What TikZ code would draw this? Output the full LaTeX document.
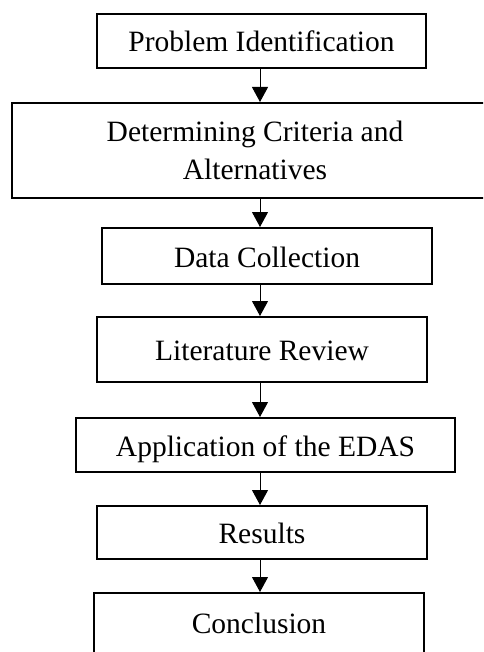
\documentclass[tikz,border=0pt]{standalone}
\usepackage{fontspec}
\setmainfont{Liberation Serif}
\usetikzlibrary{arrows.meta}
\tikzset{
	stepbox/.style={draw,line width=2pt,inner sep=0pt,text height=25pt,text depth=3pt},
	flow/.style={line width=1pt,->}
}
\begin{document}
\begin{tikzpicture}[x=1pt,y=-1pt,>={Triangle[width=16pt,length=15pt]},font=\fontsize{29.5}{38}\selectfont]
			\useasboundingbox (0,0) rectangle (483,652);
			\clip (0,0) rectangle (483,652);
			\node[stepbox,minimum width=329pt,minimum height=54pt] (ident) at (261.5,41) {Problem Identification};
			\node[draw,line width=2pt,inner sep=0pt,align=center,minimum width=486pt,minimum height=95pt] (crit) at (255,150.5) {Determining Criteria and\\Alternatives};
			\node[stepbox,minimum width=330pt,minimum height=56pt] (data) at (267,256) {Data Collection};
			\node[stepbox,minimum width=330pt,minimum height=65pt] (lit) at (262,349.5) {Literature Review};
			\node[stepbox,minimum width=379pt,minimum height=54pt] (edas) at (265.5,445) {Application of the EDAS};
			\node[stepbox,minimum width=330pt,minimum height=53pt] (res) at (262,532.5) {Results};
			\node[draw,line width=2pt,inner sep=0pt,text height=20pt,text depth=14pt,minimum width=330pt,minimum height=74pt] (concl) at (259,630) {Conclusion};
			\coordinate (spine) at (260,0);
			\draw[flow] (ident.south -| spine)--(crit.north -| spine);
			\draw[flow] (crit.south -| spine)--(data.north -| spine);
			\draw[flow] (data.south -| spine)--(lit.north -| spine);
			\draw[flow] (lit.south -| spine)--(edas.north -| spine);
			\draw[flow] (edas.south -| spine)--(res.north -| spine);
			\draw[flow] (res.south -| spine)--(concl.north -| spine);
		\end{tikzpicture}
\end{document}
